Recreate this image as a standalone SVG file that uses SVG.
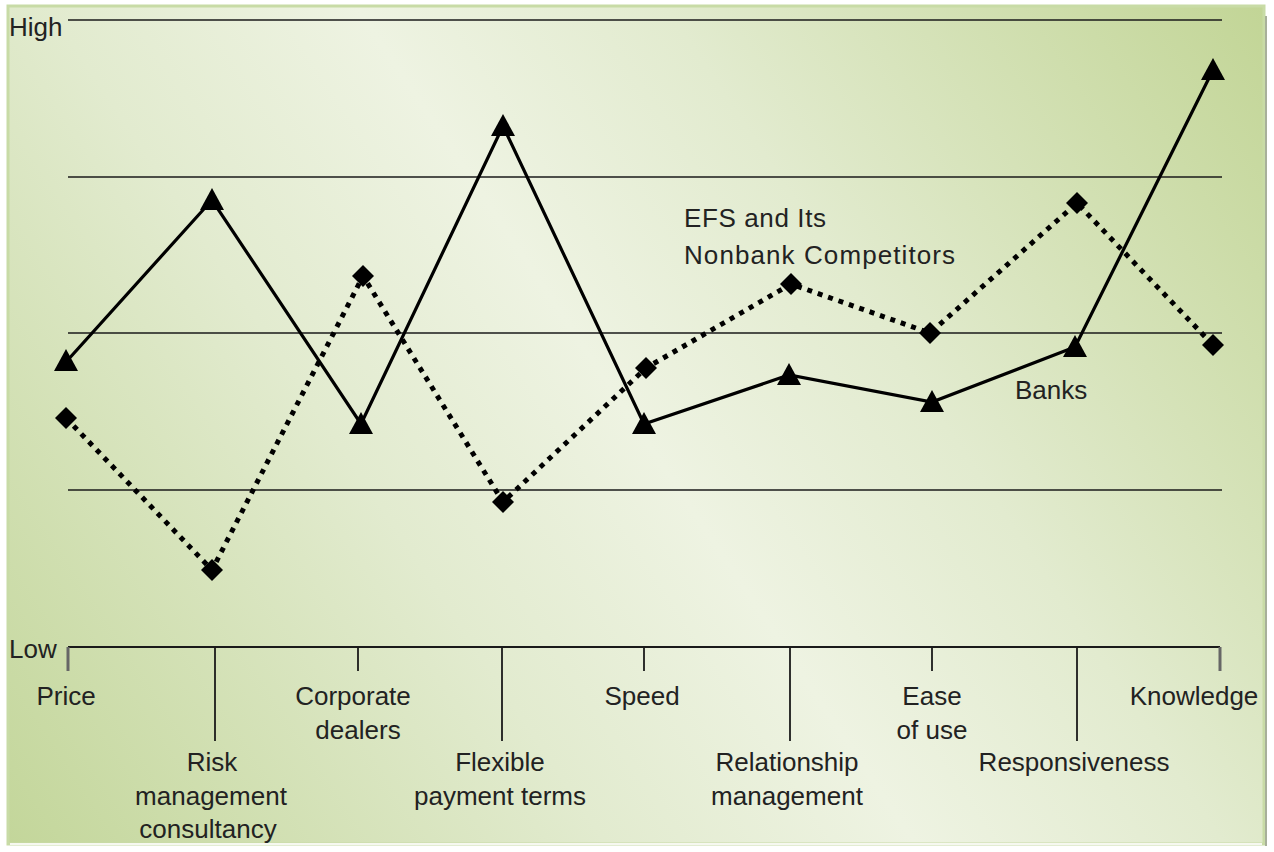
<svg xmlns="http://www.w3.org/2000/svg" width="1274" height="852" viewBox="0 0 1274 852">
<defs>
<linearGradient id="bg" gradientUnits="userSpaceOnUse" x1="1264" y1="6" x2="8" y2="844">
<stop offset="0" stop-color="#c2d596"/>
<stop offset="0.33" stop-color="#e2ebcf"/>
<stop offset="0.5" stop-color="#eef3e2"/>
<stop offset="0.67" stop-color="#e2ebcf"/>
<stop offset="1" stop-color="#c3d69a"/>
</linearGradient>
<path id="tri" d="M0,-12 L12,10 L-12,10 Z" fill="#000"/>
<path id="dia" d="M0,-11 L11,0 L0,11 L-11,0 Z" fill="#000"/>
<style>
text{font-family:"Liberation Sans",Arial,sans-serif;font-size:26px;fill:#222}
.c{text-anchor:middle}
.grid{stroke:#1a1a1a;stroke-width:1.6;fill:none}
.tick{stroke:#1a1a1a;stroke-width:1.8;fill:none}
.etick{stroke:#666;stroke-width:3;fill:none}
.banks{stroke:#000;stroke-width:3.2;fill:none;stroke-linejoin:miter}
.efs{stroke:#000;stroke-width:5;fill:none;stroke-dasharray:5 6}
</style>
</defs>
<rect x="8" y="6" width="1256" height="838" fill="url(#bg)" stroke="#c8dba6" stroke-width="3"/>
<line x1="1266" y1="16" x2="1266" y2="846" stroke="#a8b09a" stroke-width="2"/>
<line x1="10" y1="844" x2="1262" y2="844" stroke="#f6f8f0" stroke-width="2"/>
<g id="gridlines">
<line class="grid" x1="68" y1="20" x2="1222" y2="20"/>
<line class="grid" x1="68" y1="177" x2="1222" y2="177"/>
<line class="grid" x1="68" y1="333" x2="1222" y2="333"/>
<line class="grid" x1="68" y1="490" x2="1222" y2="490"/>
</g>
<g id="axis">
<line class="tick" x1="68" y1="647" x2="1220" y2="647"/>
<line class="etick" x1="68" y1="647" x2="68" y2="671"/>
<line class="tick" x1="215" y1="647" x2="215" y2="741"/>
<line class="tick" x1="358" y1="647" x2="358" y2="671"/>
<line class="tick" x1="502" y1="647" x2="502" y2="741"/>
<line class="tick" x1="644" y1="647" x2="644" y2="671"/>
<line class="tick" x1="790" y1="647" x2="790" y2="741"/>
<line class="tick" x1="932" y1="647" x2="932" y2="671"/>
<line class="tick" x1="1077" y1="647" x2="1077" y2="741"/>
<line class="etick" x1="1220" y1="647" x2="1220" y2="671"/>
</g>
<g id="connectors">
<polyline class="efs" points="66,418 212,570 363,276 503,502 646,368 791,284 930,333 1077,203 1213,345"/>
<polyline class="banks" points="66,362 212,200 361,424 503,126 644,424 789,375 932,402 1075,347 1213,70"/>
</g>
<g id="efs-markers">
<use href="#dia" x="66" y="418"/>
<use href="#dia" x="212" y="570"/>
<use href="#dia" x="363" y="276"/>
<use href="#dia" x="503" y="502"/>
<use href="#dia" x="646" y="368"/>
<use href="#dia" x="791" y="284"/>
<use href="#dia" x="930" y="333"/>
<use href="#dia" x="1077" y="203"/>
<use href="#dia" x="1213" y="345"/>
</g>
<g id="banks-markers">
<use href="#tri" x="66" y="361"/>
<use href="#tri" x="212" y="200"/>
<use href="#tri" x="361" y="424"/>
<use href="#tri" x="503" y="126"/>
<use href="#tri" x="644" y="424"/>
<use href="#tri" x="789" y="375"/>
<use href="#tri" x="932" y="402"/>
<use href="#tri" x="1075" y="347"/>
<use href="#tri" x="1213" y="70"/>
</g>
<g id="axis-labels">
<text x="9" y="36">High</text>
<text x="9" y="658">Low</text>
</g>
<g id="series-labels">
<text x="684" y="227" textLength="142">EFS and Its</text>
<text x="684" y="264" textLength="271">Nonbank Competitors</text>
<text x="1015" y="399">Banks</text>
</g>
<g id="category-labels">
<text class="c" x="66" y="705">Price</text>
<text class="c" x="212" y="771">Risk</text>
<text class="c" x="211" y="805">management</text>
<text class="c" x="208" y="838">consultancy</text>
<text class="c" x="353" y="705">Corporate</text>
<text class="c" x="358" y="739">dealers</text>
<text class="c" x="500" y="771">Flexible</text>
<text class="c" x="500" y="805">payment terms</text>
<text class="c" x="642" y="705">Speed</text>
<text class="c" x="787" y="771">Relationship</text>
<text class="c" x="787" y="805">management</text>
<text class="c" x="932" y="705">Ease</text>
<text class="c" x="932" y="739">of use</text>
<text class="c" x="1074" y="771">Responsiveness</text>
<text class="c" x="1194" y="705">Knowledge</text>
</g>
</svg>
